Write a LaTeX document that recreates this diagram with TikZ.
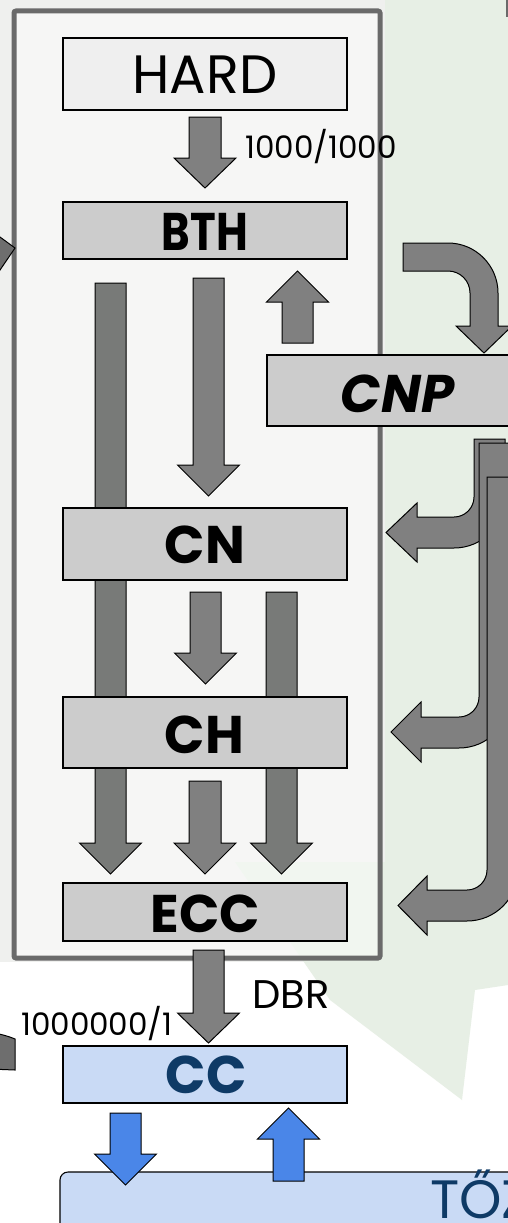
\documentclass[tikz,border=0pt]{standalone}
\usepackage{fontspec}
\setmainfont{Poppins}
\definecolor{arrgray}{HTML}{808080}
\definecolor{bargray}{HTML}{787A78}
\definecolor{boxgray}{HTML}{CCCCCC}
\definecolor{hardfill}{HTML}{EFEFEF}
\definecolor{bluefill}{HTML}{C9DAF5}
\definecolor{bluearr}{HTML}{4A86E8}
\definecolor{bluetext}{HTML}{0E3A66}
\definecolor{framegray}{HTML}{6A6A6A}
\definecolor{bgbase}{HTML}{EFF0EE}
\definecolor{bggreen}{HTML}{E7EFE5}
\definecolor{fraggray}{HTML}{6E6E6E}
\tikzset{
  box/.style={draw=black, line width=1.1pt, rectangle, inner sep=0pt},
  grayarrow/.style={fill=arrgray, draw=black, line width=1pt, line join=miter},
  bararrow/.style={fill=bargray, draw=black, line width=1pt, line join=miter},
  bluearrow/.style={fill=bluearr, draw=black, line width=1pt, line join=miter},
  lbl/.style={anchor=base, inner sep=0pt},
  bigbold/.style={font=\fontsize{53}{60}\selectfont\bfseries},
  small/.style={font=\fontsize{31}{36}\selectfont},
}
% #2 centre x, #3 start y, #4 head base y, #5 tip y, #6 half shaft width
\newcommand{\myblockarrow}[6][grayarrow]{%
  \draw[#1] ({#2-#6},#3) -- ({#2-#6},#4) -- ({#2-31},#4) -- (#2,#5) -- ({#2+31},#4) -- ({#2+#6},#4) -- ({#2+#6},#3) -- cycle;}
\begin{document}
\begin{tikzpicture}[x=1pt,y=-1pt]
\useasboundingbox (0,0) rectangle (508,1223);
\clip (0,0) rectangle (508,1223);
% background
\fill[bgbase] (0,0) rectangle (508,1223);
\fill[bggreen] (385,0) rectangle (508,960);
\fill[white] (0,962) rectangle (508,1223);
\fill[bggreen] (235,862) -- (508,862) -- (508,985) -- (475,990) -- (462,1100) -- (330,1000) -- cycle;
% frame
\draw[framegray, line width=5pt, rounded corners=2pt, fill=white, fill opacity=0.45] (14,11) rectangle (380,958);
% fragments at the left edge
\draw[fill=fraggray, draw=black, line width=1pt] (-10,229.7) -- (15,248) -- (-10,284.7) -- cycle;
\draw[fill=fraggray, draw=black, line width=1pt] (-10,1032) .. controls (0,1034) and (8,1036) .. (15,1039) -- (15,1070) -- (-10,1069) -- cycle;
\draw[framegray, line width=1.5pt] (507,0) -- (507,17);
% long bars behind the boxes
\myblockarrow[bararrow]{110.5}{283}{843}{874}{15.5}
\myblockarrow[bararrow]{281.5}{592}{843}{874}{15.5}
% straight arrows
\myblockarrow{205}{117}{158}{188}{16}
\myblockarrow{208.5}{278}{465}{496}{15.5}
\myblockarrow{297.5}{343}{302}{271}{15.5}
\myblockarrow{205.5}{592}{653}{684}{15.5}
\myblockarrow{205}{781}{843}{874}{16}
% boxes
\node[box, fill=hardfill, minimum width=284pt, minimum height=72pt] (HARD) at (205,74) {};
\node[box, fill=boxgray, minimum width=284pt, minimum height=57pt] (BTH) at (205,230.5) {};
\node[box, fill=boxgray, minimum width=284pt, minimum height=72pt] (CN) at (205,544) {};
\node[box, fill=boxgray, minimum width=284pt, minimum height=71pt] (CH) at (205,732.5) {};
\node[box, fill=boxgray, minimum width=284pt, minimum height=58pt] (ECC) at (205,912) {};
% curved arrow to CNP
\draw[grayarrow] (403,243) -- (448,243) .. controls (475.6,243) and (498,265.4) .. (498,293) -- (498,326) -- (512,326) -- (484,353) -- (456,326) -- (470,326) -- (470,293) .. controls (470,280.8) and (460.2,271) .. (448,271) -- (403,271) -- cycle;
\node[box, fill=boxgray, minimum width=261pt, minimum height=71pt] (CNP) at (397.5,390.5) {};
% bent arrows from the right
\draw[grayarrow] (474,439) -- (474,497) .. controls (474,508) and (465,517) .. (454,517) -- (417,517) -- (417,503) -- (386,532.5) -- (417,562) -- (417,548) -- (454,548) .. controls (482.2,548) and (505,525.2) .. (505,497) -- (505,439) -- cycle;
\draw[grayarrow] (479,443) -- (479,697) .. controls (479,708) and (470,717) .. (459,717) -- (421,717) -- (421,702) -- (391,732) -- (421,762) -- (421,748) -- (459,748) .. controls (487.2,748) and (510,725.2) .. (510,697) -- (510,443) -- cycle;
\draw[grayarrow] (487,477) -- (487,870) .. controls (487,881) and (478,890) .. (467,890) -- (427,890) -- (427,876) -- (398,905.5) -- (427,935) -- (427,921) -- (467,921) .. controls (495.2,921) and (518,898.2) .. (518,870) -- (518,477) -- cycle;
% ECC -> CC
\myblockarrow{208.5}{950}{1013}{1043}{15.5}
\node[box, fill=bluefill, minimum width=284pt, minimum height=57pt] (CC) at (205,1074.5) {};
\draw[fill=bluefill, draw=black, line width=1.1pt, rounded corners=8pt] (60,1172) rectangle (800,1300);
\coordinate (TOZ) at (430,1172);
\myblockarrow[bluearrow]{125.5}{1113}{1154}{1185}{15.5}
\myblockarrow[bluearrow]{288.5}{1181}{1139}{1108}{15.5}
% texts
\node[lbl, font=\fontsize{54}{60}\selectfont] (tHARD) at (205,93) {HARD};
\node[lbl, bigbold] (tBTH) at (205,250) {\scalebox{0.82}[1]{BTH}};
\node[lbl, font=\fontsize{53}{60}\selectfont\bfseries\itshape] (tCNP) at (397.5,412) {CNP};
\node[lbl, bigbold] (tCN) at (205,563) {CN};
\node[lbl, bigbold] (tCH) at (204.5,753) {CH};
\node[lbl, bigbold] (tECC) at (205.5,932) {ECC};
\node[lbl, bigbold, text=bluetext] (tCC) at (206,1093) {CC};
\node[lbl, anchor=base west, small] (t1000) at (245,158) {1000/1000};
\node[lbl, anchor=base west, font=\fontsize{40}{46}\selectfont] (tDBR) at (252,1008) {DBR};
\node[lbl, anchor=base west, small] (t1m) at (21,1035) {1000000/1};
\node[lbl, anchor=base west, text=bluetext, font=\fontsize{54}{60}\selectfont] (tTOZ) at (430,1218) {TŐZ};
\end{tikzpicture}
\end{document}
